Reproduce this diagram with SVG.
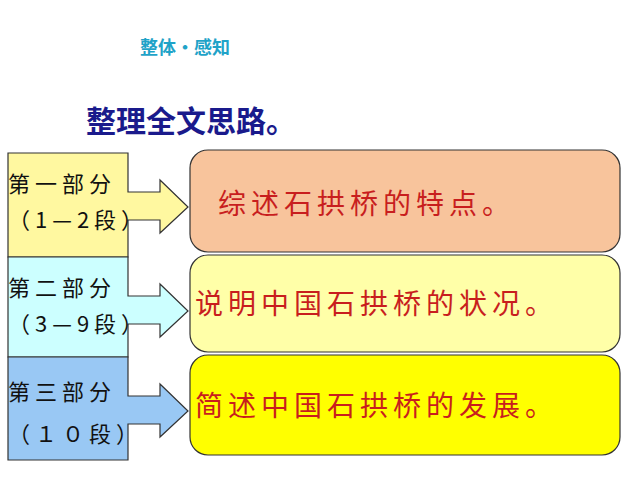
<svg xmlns="http://www.w3.org/2000/svg" width="640" height="480" viewBox="0 0 640 480">
<style>
.l{font-family:"Noto Sans CJK SC",sans-serif;font-size:22px;fill:#111;letter-spacing:5px}
.r{font-family:"Noto Sans CJK SC",sans-serif;font-size:28px;fill:#c81e1e;letter-spacing:5px}
.a{stroke:#333;stroke-width:1.2}
.b{stroke:#333;stroke-width:1.2}
</style>
<rect width="640" height="480" fill="#fff"/>
<text x="140" y="54" font-family="Noto Sans CJK SC,sans-serif" font-weight="bold" font-size="18" fill="#1fa3c8">整体•感知</text>
<text x="86" y="132" font-family="Noto Sans CJK SC,sans-serif" font-weight="bold" font-size="30" fill="#1a1a8c">整理全文思路。</text>
<g id="connectors">
<path class="a" fill="#fff8a0" d="M8,153H128V192H160V180L188,207L160,233V220H128V257H8Z"/>
<path class="a" fill="#ccffff" d="M8,257H128V296H160V284L188,311L160,337V324H128V357H8Z"/>
<path class="a" fill="#99c8f4" d="M8,357H128V396H160V384L188,411L160,437V424H128V460H8Z"/>
</g>
<g id="p1"><text class="l" x="8" y="192">第一部分</text><text class="l" x="8" y="228">（1—2段）</text></g>
<g id="p2"><text class="l" x="8" y="296">第二部分</text><text class="l" x="8" y="332">（3—9段）</text></g>
<g id="p3"><text class="l" x="8" y="400">第三部分</text><text class="l" x="8" y="442">（１０段）</text></g>
<g id="n1"><rect class="b" x="190" y="150" width="430" height="102" rx="18" fill="#f8c49c"/><text class="r" x="218" y="214">综述石拱桥的特点。</text></g>
<g id="n2"><rect class="b" x="190" y="255" width="430" height="97" rx="18" fill="#ffffa8"/><text class="r" x="195" y="314">说明中国石拱桥的状况。</text></g>
<g id="n3"><rect class="b" x="190" y="355" width="430" height="100" rx="18" fill="#ffff00"/><text class="r" x="195" y="416">简述中国石拱桥的发展。</text></g>
</svg>
